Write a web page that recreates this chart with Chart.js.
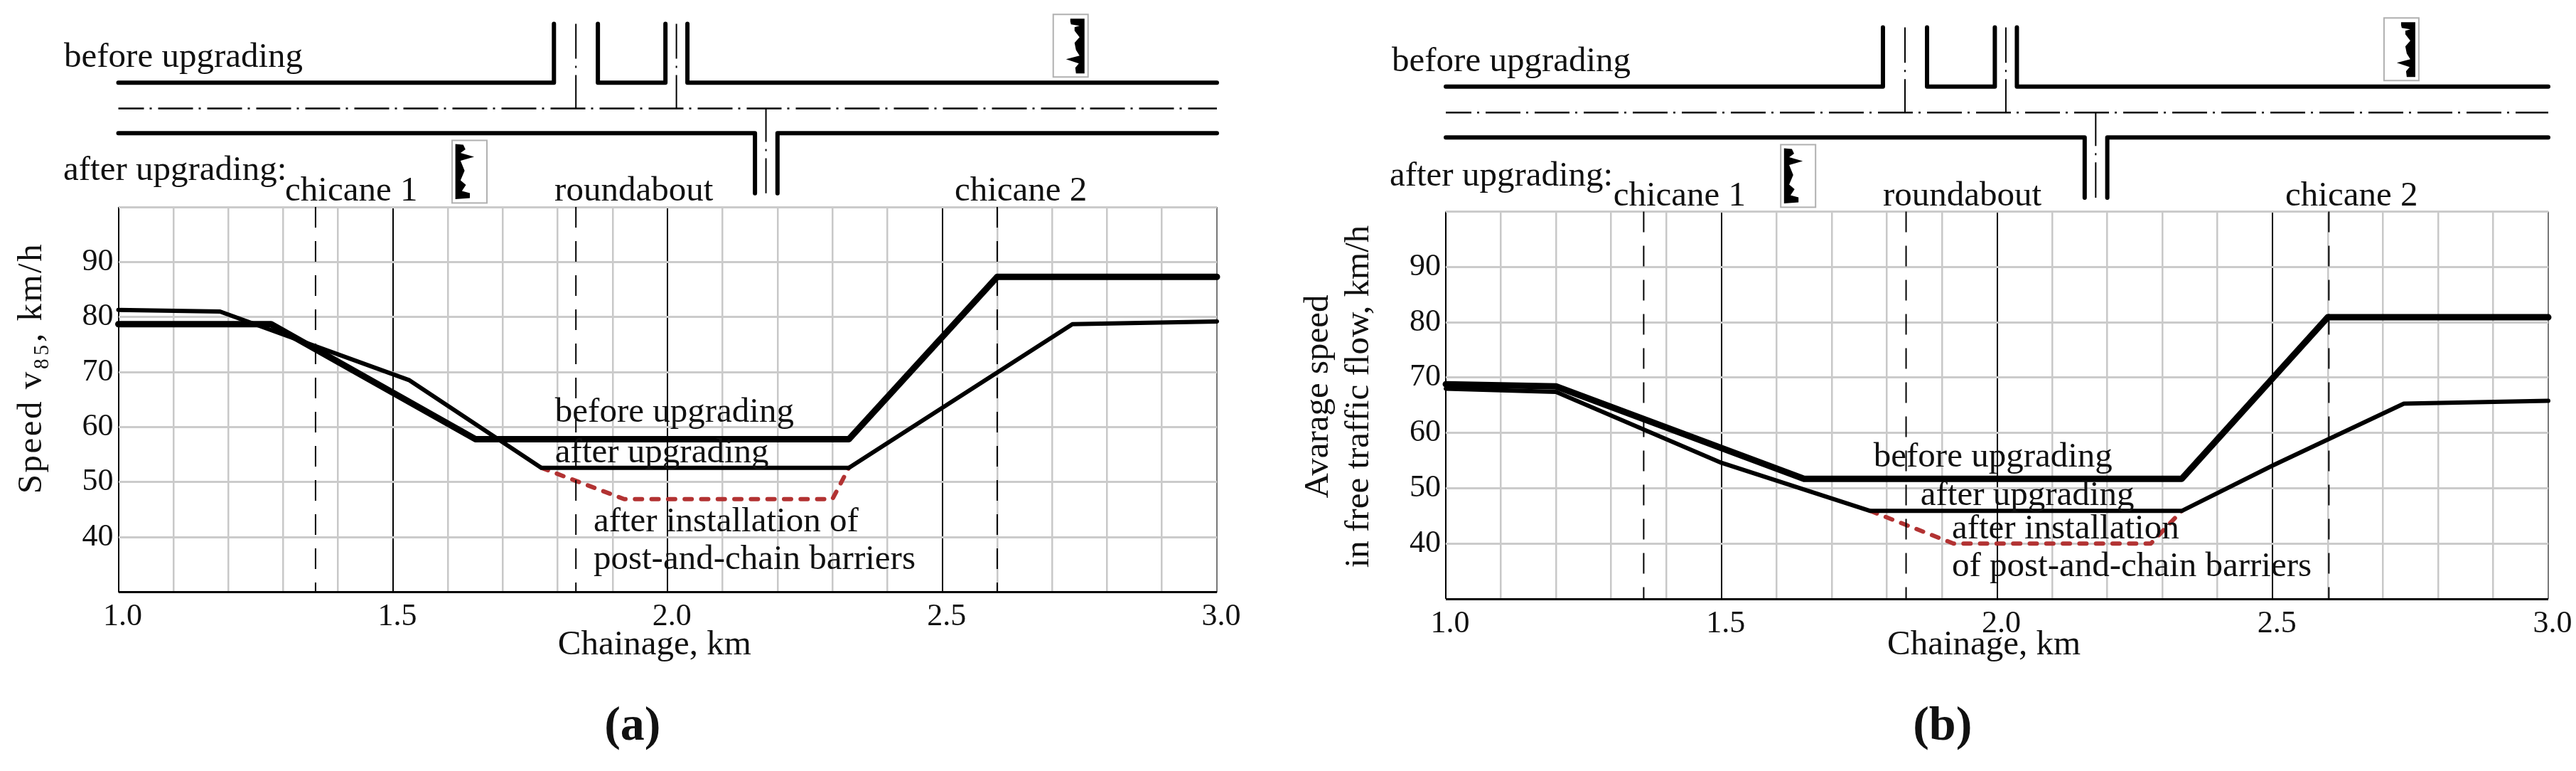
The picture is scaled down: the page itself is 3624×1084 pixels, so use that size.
<!DOCTYPE html>
<html><head><meta charset="utf-8">
<style>html,body{margin:0;padding:0;background:#fff;width:3624px;height:1084px;overflow:hidden}
canvas{position:absolute;top:0}</style>
<script src="https://cdn.jsdelivr.net/npm/chart.js@4/dist/chart.umd.min.js"></script>
</head><body>
<canvas id="a" width="1812" height="1084" style="left:0;width:1812px;height:1084px"></canvas>
<canvas id="b" width="1812" height="1084" style="left:1812px;width:1812px;height:1084px"></canvas>
<script>
// ---- panel (a): speed v85 ----
const beforeXA=[1.0,1.278,1.65,2.33,2.6,3.0];
const beforeYA=[78.7,78.7,57.8,57.8,87.3,87.3];
const afterXA=[1.0,1.185,1.53,1.77,2.33,2.737,3.0];
const afterYA=[81.3,81.0,68.5,52.6,52.6,78.7,79.2];
const barrierXA=[1.77,1.921,2.30,2.33];
const barrierYA=[52.6,46.9,46.9,52.6];
// ---- panel (b): average speed ----
const beforeXB=[1.0,1.2,1.65,2.335,2.6,3.0];
const beforeYB=[68.8,68.4,51.7,51.7,80.9,80.9];
const afterXB=[1.0,1.2,1.5,1.77,2.335,2.5,2.738,3.0];
const afterYB=[68.0,67.4,54.6,45.9,45.9,54.1,65.3,65.8];
const barrierXB=[1.77,1.921,2.279,2.335];
const barrierYB=[45.9,40.0,40.0,45.9];
// ---- feature chainages ----
const featureXA=[1.359,1.833,2.6];
const featureXB=[1.359,1.835,2.602];
// ---- road layout sketch (chainage, drawn above the plot in axis units) ----
const roadUpperY=122.6, roadCentreY=117.9, roadLowerY=113.4, stubTopY=133.3, stubBottomY=102.5;
const stubUpper1=[1.793,1.833,1.873];
const stubUpper2=[1.996,2.016,2.036];
const stubLower=[2.159,2.179,2.2];
// ---- texts ----
const xTicks=['1.0','1.5','2.0','2.5','3.0'];
const textsA=['before upgrading','after upgrading:','chicane 1','roundabout','chicane 2','before upgrading','after upgrading','after installation of','post-and-chain barriers'];
const textXA=[0.901,0.8997,1.3035,1.794,2.5225,1.795,1.795,1.865,1.865];
const textYA=[125.5,104.9,101.2,101.2,101.2,61.0,53.6,41.1,34.2];
const textsB=['before upgrading','after upgrading:','chicane 1','roundabout','chicane 2','before upgrading','after upgrading','after installation','of post-and-chain barriers'];
const textXB=[0.902,0.898,1.304,1.793,2.523,1.776,1.861,1.918,1.918];
const textYB=[125.4,104.7,101.1,101.1,101.1,53.9,47.0,40.9,34.1];
// ---- device pictograms: box corner in axis units, outline in box-local pixels ----
const iconLowerAnchor=[1.6076,112.1];
const iconUpperAnchor=[2.702,135.0];
const iconLowerShape=[[4.6,5],[15.7,6],[18.8,12.7],[11.9,17.7],[31,23],[11.9,28.7],[17.6,42.7],[11.9,56],[19.5,62.7],[13.8,71],[25,74],[25,81],[4.6,82.7]];
const iconUpperShape=[[24,6],[44,6],[44,83],[32,83],[31,75],[36,69],[18,63],[37,58],[32,50],[30,40],[37,32],[30,23],[30,18],[37,16],[25,14],[24,10]];

const SERIF='"Liberation Serif", serif';
const INK='#111';
const nb='\u00A0';

function pts(xs,ys){return xs.map((x,i)=>({x,y:ys[i]}));}
function line(data,width,extra){return Object.assign({data,showLine:true,pointRadius:0,borderColor:'#000',borderWidth:width,clip:false,borderCapStyle:'round',borderJoinStyle:'round',tension:0},extra||{});}

function roadSets(){
  const side=[47,10,3,10,50,300];
  const u1=stubUpper1,u2=stubUpper2,l=stubLower;
  return [
    line(pts([1.0,u1[0],u1[0]],[roadUpperY,roadUpperY,stubTopY]),6),
    line(pts([u1[2],u1[2],u2[0],u2[0]],[stubTopY,roadUpperY,roadUpperY,stubTopY]),6),
    line(pts([u2[2],u2[2],3.0],[stubTopY,roadUpperY,roadUpperY]),6),
    line(pts([1.0,l[0],l[0]],[roadLowerY,roadLowerY,stubBottomY]),6),
    line(pts([l[2],l[2],3.0],[stubBottomY,roadLowerY,roadLowerY]),6),
    line(pts([1.0,3.0],[roadCentreY,roadCentreY]),2.5,{borderCapStyle:'butt',borderDash:[49,8,3,9],borderDashOffset:13}),
    line(pts([u1[1],u1[1]],[roadCentreY,stubTopY]),2,{borderCapStyle:'butt',borderDash:side}),
    line(pts([u2[1],u2[1]],[roadCentreY,stubTopY]),2,{borderCapStyle:'butt',borderDash:side}),
    line(pts([l[1],l[1]],[roadCentreY,stubBottomY]),2,{borderCapStyle:'butt',borderDash:side})
  ];
}
function overlay(texts,tx,ty,mark,markX,markY){return {id:'overlay',afterDatasetsDraw(c){
  const X=c.scales.x,Y=c.scales.y,g=c.ctx;g.save();
  [[iconLowerAnchor,iconLowerShape],[iconUpperAnchor,iconUpperShape]].forEach(([a,s])=>{
    const ox=X.getPixelForValue(a[0]),oy=Y.getPixelForValue(a[1]);
    g.strokeStyle='#b0b0b0';g.lineWidth=2;g.strokeRect(ox,oy,49,88);
    g.fillStyle='#000';g.beginPath();s.forEach((p,i)=>i?g.lineTo(ox+p[0],oy+p[1]):g.moveTo(ox+p[0],oy+p[1]));g.closePath();g.fill();
  });
  g.fillStyle=INK;g.textBaseline='alphabetic';g.textAlign='left';g.font='49px '+SERIF;
  texts.forEach((t,i)=>g.fillText(t,X.getPixelForValue(tx[i]),Y.getPixelForValue(ty[i])));
  g.textAlign='center';g.font='bold 68px '+SERIF;
  g.fillText(mark,X.getPixelForValue(markX),Y.getPixelForValue(markY));
  g.restore();
}};}

function build(id,o){
  const datasets=[
    ...o.feature.map(x=>line(pts([x,x],[100,30]),2,{borderCapStyle:'butt',borderDash:[29,19]})),
    line(pts(o.bx,o.by),9,{label:'before upgrading'}),
    line(pts(o.ax,o.ay),6,{label:'after upgrading'}),
    line(pts(o.rx,o.ry),6,{label:'after installation of post-and-chain barriers',borderColor:'#b23232',borderDash:[10,13.3]}),
    ...roadSets()
  ];
  return new Chart(document.getElementById(id),{
    type:'scatter',data:{datasets},
    plugins:[overlay(o.texts,o.tx,o.ty,o.mark,o.mx,o.my)],
    options:{responsive:false,devicePixelRatio:1,animation:false,
      layout:{padding:{left:o.padLeft,right:o.padRight,top:o.top,bottom:o.padBottom}},
      plugins:{legend:{display:false},tooltip:{enabled:false}},
      scales:{
        x:{type:'linear',min:1,max:3,
          afterFit(s){s.height=o.xHeight;s.paddingLeft=0;s.paddingRight=0;},
          border:{display:false},
          grid:{drawTicks:false,
            color:c=>{const v=c.tick.value;return (Math.abs(v-1)<1e-6||Math.abs(v*2-Math.round(v*2))<1e-6&&v<2.9)?'#000':(v>2.95?'#777':'#c8c8c8');},
            lineWidth:c=>{const v=c.tick.value;return Math.abs(v*2-Math.round(v*2))<1e-6?2:2.5;}},
          ticks:{stepSize:0.1,autoSkip:false,maxRotation:0,minRotation:0,padding:9,labelOffset:6,color:INK,font:{family:SERIF,size:44},
            callback:v=>{const i=xTicks.indexOf(Number(v).toFixed(1));return (i>=0&&Math.abs(v*2-Math.round(v*2))<1e-6)?xTicks[i]:'';}},
          title:{display:true,text:'Chainage, km'+nb+nb+nb,color:INK,font:{family:SERIF,size:49,lineHeight:1.2},padding:0}
        },
        y:{type:'linear',min:30,max:100,
          afterFit(s){
            s.width=o.left-o.padLeft;s.paddingTop=0;s.paddingBottom=0;
            if(o.ySpacing&&!s._spaced){s._spaced=true;const dt=s.drawTitle.bind(s);
              s.drawTitle=function(){s.ctx.letterSpacing=o.ySpacing;dt();s.ctx.letterSpacing='0px';};}
          },
          border:{display:false},
          grid:{drawTicks:false,
            color:c=>c.tick.value===30?'#000':'#cbcbcb',
            lineWidth:3},
          ticks:{stepSize:10,padding:7,color:INK,font:{family:SERIF,size:44},
            callback:v=>(v===30||v===100)?'':String(v)},
          title:{display:true,text:o.yTitle,color:INK,font:{family:SERIF,size:49,lineHeight:o.yLH},padding:0}
        }
      }
    }
  });
}
build('a',{feature:featureXA,bx:beforeXA,by:beforeYA,ax:afterXA,ay:afterYA,rx:barrierXA,ry:barrierYA,
  texts:textsA,tx:textXA,ty:textYA,mark:'(a)',mx:1.936,my:3.2,
  yTitle:nb+nb+nb+nb+nb+nb+'Speed v\u2088\u2085, km/h',yLH:1.2,ySpacing:'2.5px',
  left:166.5,top:291,padLeft:15.6,padRight:100,padBottom:147,xHeight:104.5});
build('b',{feature:featureXB,bx:beforeXB,by:beforeYB,ax:afterXB,ay:afterYB,rx:barrierXB,ry:barrierYB,
  texts:textsB,tx:textXB,ty:textYB,mark:'(b)',mx:1.901,my:4.6,
  yTitle:[nb+nb+'Avarage speed',nb+nb+'in free traffic flow, km/h'],yLH:1.163,
  left:222,top:297.5,padLeft:15,padRight:39,padBottom:147,xHeight:95});
</script>
</body></html>
